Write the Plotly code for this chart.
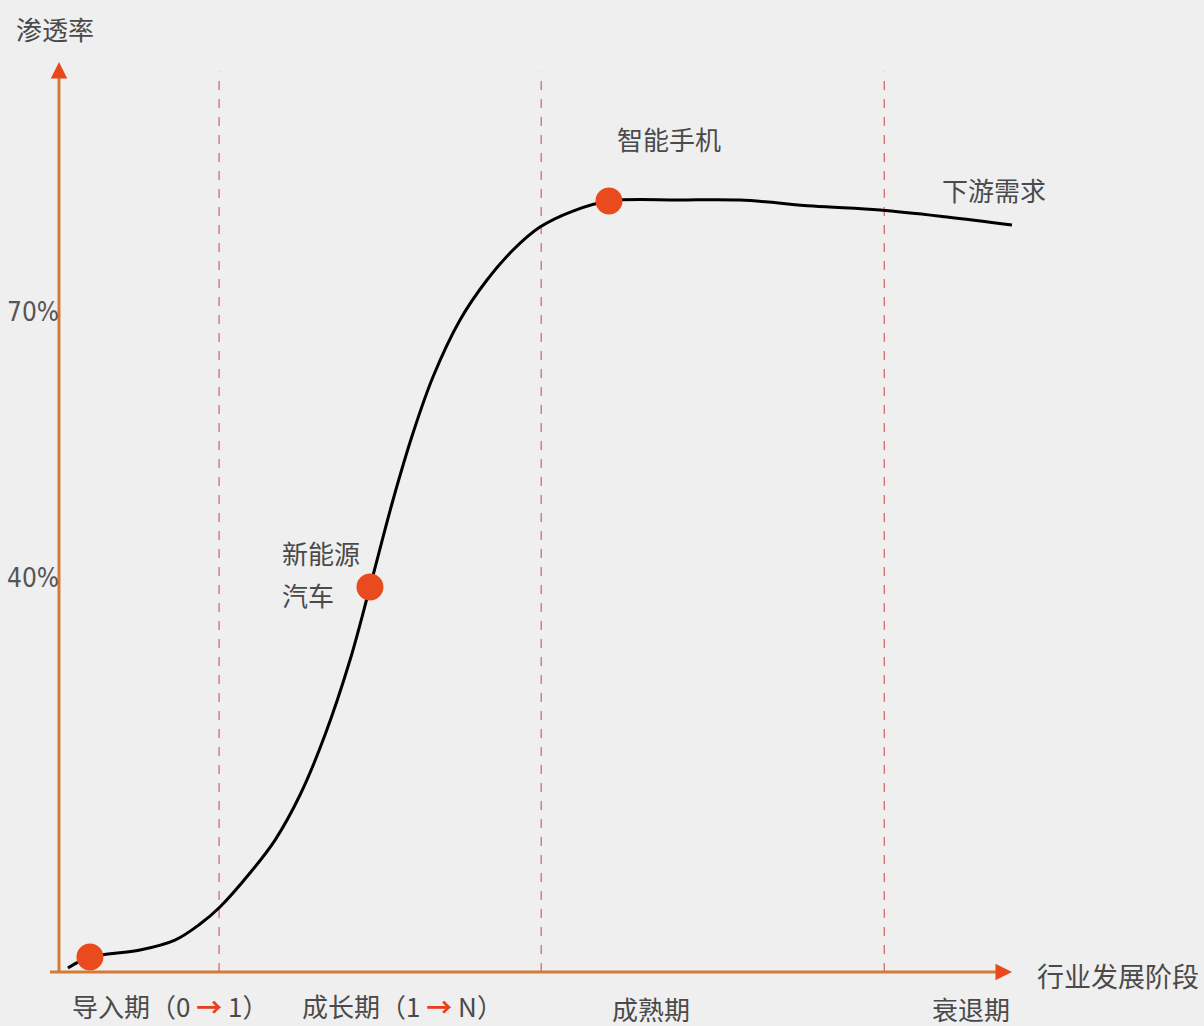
import plotly.graph_objects as go

# Industry life-cycle S-curve: penetration rate vs. development stage
time_x = [0.94, 3.25, 8.50, 12.17, 14.80, 16.89, 20.04, 22.67, 25.29, 27.91,
          30.54, 32.63, 35.05, 37.15, 39.24, 42.08, 44.91, 47.64, 50.47, 53.93,
          57.71, 65.16, 71.46, 79.12, 86.15, 93.18, 100.0]
penetration = [-3.98, -2.74, -1.95, -0.83, 0.98, 2.90, 6.73, 10.45, 15.53, 22.29,
               30.75, 38.99, 48.80, 56.35, 62.67, 69.10, 73.61, 76.99, 79.58, 81.39,
               82.52, 82.63, 82.63, 81.95, 81.50, 80.71, 79.81]

# Highlighted industries on the curve
marker_x = [3.25, 32.63, 57.71]
marker_y = [-2.74, 38.99, 82.52]

# Stage boundaries and y tick values
stage_bounds = [16.8, 50.6, 86.6]
tick_vals = [70, 40]
tick_text = ["70%", "40%"]

ARROW = "<span style='color:#e8401c'><b>→</b></span>"
stage_labels = [
    "导入期（0 " + ARROW + " 1）",
    "成长期（1 " + ARROW + " N）",
    "成熟期",
    "衰退期",
]
stage_label_x = [1.15, 25.3, 57.8, 91.4]
stage_label_y = [-8.16, -8.16, -8.6, -8.6]

BASE_Y = -4.43      # level of the horizontal axis
TOP_Y = 98.2        # tip of the vertical axis
END_X = 100.0       # tip of the horizontal axis
DASH_TOP = 97.1

AXIS_COLOR = "rgb(214,122,52)"
HEAD_COLOR = "#e8481c"
DOT_COLOR = "#e94b1e"
TEXT_COLOR = "#4a4a4a"
CJK = "Noto Sans CJK SC"
NUM_FONT = "DejaVu Sans Condensed, DejaVu Sans, sans-serif"

fig = go.Figure()

fig.add_trace(go.Scatter(
    x=time_x, y=penetration, mode="lines",
    line=dict(color="black", width=3, shape="spline", smoothing=1.0),
    hoverinfo="skip", showlegend=False,
))
fig.add_trace(go.Scatter(
    x=marker_x, y=marker_y, mode="markers",
    marker=dict(color=DOT_COLOR, size=27, line=dict(width=0)),
    hoverinfo="skip", showlegend=False,
))

shapes = []
for bx in stage_bounds:
    shapes.append(dict(type="line", xref="x", yref="y", x0=bx, x1=bx,
                       y0=BASE_Y, y1=DASH_TOP, layer="below",
                       line=dict(color="rgb(215,95,95)", width=1.2, dash="dash")))
# axes
shapes.append(dict(type="line", xref="x", yref="y", x0=-0.95, x1=END_X - 1.0,
                   y0=BASE_Y, y1=BASE_Y, line=dict(color=AXIS_COLOR, width=3)))
shapes.append(dict(type="line", xref="x", yref="y", x0=0, x1=0,
                   y0=BASE_Y, y1=TOP_Y - 1.2, line=dict(color=AXIS_COLOR, width=3)))

annotations = []
# arrowheads on the axes
annotations.append(dict(x=END_X, y=BASE_Y, xref="x", yref="y", ax=-16, ay=0,
                        text="", showarrow=True, arrowhead=2, arrowsize=1.1,
                        arrowwidth=3, arrowcolor=HEAD_COLOR))
annotations.append(dict(x=0, y=TOP_Y, xref="x", yref="y", ax=0, ay=16,
                        text="", showarrow=True, arrowhead=2, arrowsize=1.1,
                        arrowwidth=3, arrowcolor=HEAD_COLOR))

# y tick labels
for tv, tt in zip(tick_vals, tick_text):
    annotations.append(dict(x=0.2, y=tv, xref="x", yref="y", text=tt,
                            showarrow=False, xanchor="right", yanchor="middle",
                            font=dict(family=NUM_FONT, size=26, color="#555555")))

# axis titles
annotations.append(dict(x=-0.4, y=102.0, xref="x", yref="y", text="渗透率",
                        showarrow=False, xanchor="center", yanchor="middle",
                        font=dict(family=CJK, size=26, color=TEXT_COLOR)))
annotations.append(dict(x=102.4, y=-4.77, xref="x", yref="y", text="行业发展阶段",
                        showarrow=False, xanchor="left", yanchor="middle",
                        font=dict(family=CJK, size=27, color=TEXT_COLOR)))

# curve annotations
for txt, xx, yy in [("智能手机", 58.3, 89.6), ("下游需求", 92.4, 83.8),
                    ("新能源", 23.2, 42.9), ("汽车", 23.2, 38.2)]:
    annotations.append(dict(x=xx, y=yy, xref="x", yref="y", text=txt,
                            showarrow=False, xanchor="left", yanchor="middle",
                            font=dict(family=CJK, size=26, color=TEXT_COLOR)))

# stage labels
for txt, xx, yy in zip(stage_labels, stage_label_x, stage_label_y):
    annotations.append(dict(x=xx, y=yy, xref="x", yref="y", text=txt,
                            showarrow=False, xanchor="left", yanchor="middle",
                            font=dict(family=CJK, size=26, color=TEXT_COLOR)))

fig.update_layout(
    width=1204, height=1026,
    margin=dict(l=0, r=0, t=0, b=0),
    paper_bgcolor="#efefef", plot_bgcolor="#efefef",
    xaxis=dict(range=[-6.19, 120.15], visible=False, fixedrange=True),
    yaxis=dict(range=[-10.52, 105.19], visible=False, fixedrange=True),
    shapes=shapes, annotations=annotations,
    showlegend=False,
)

fig.write_html("out.html")
